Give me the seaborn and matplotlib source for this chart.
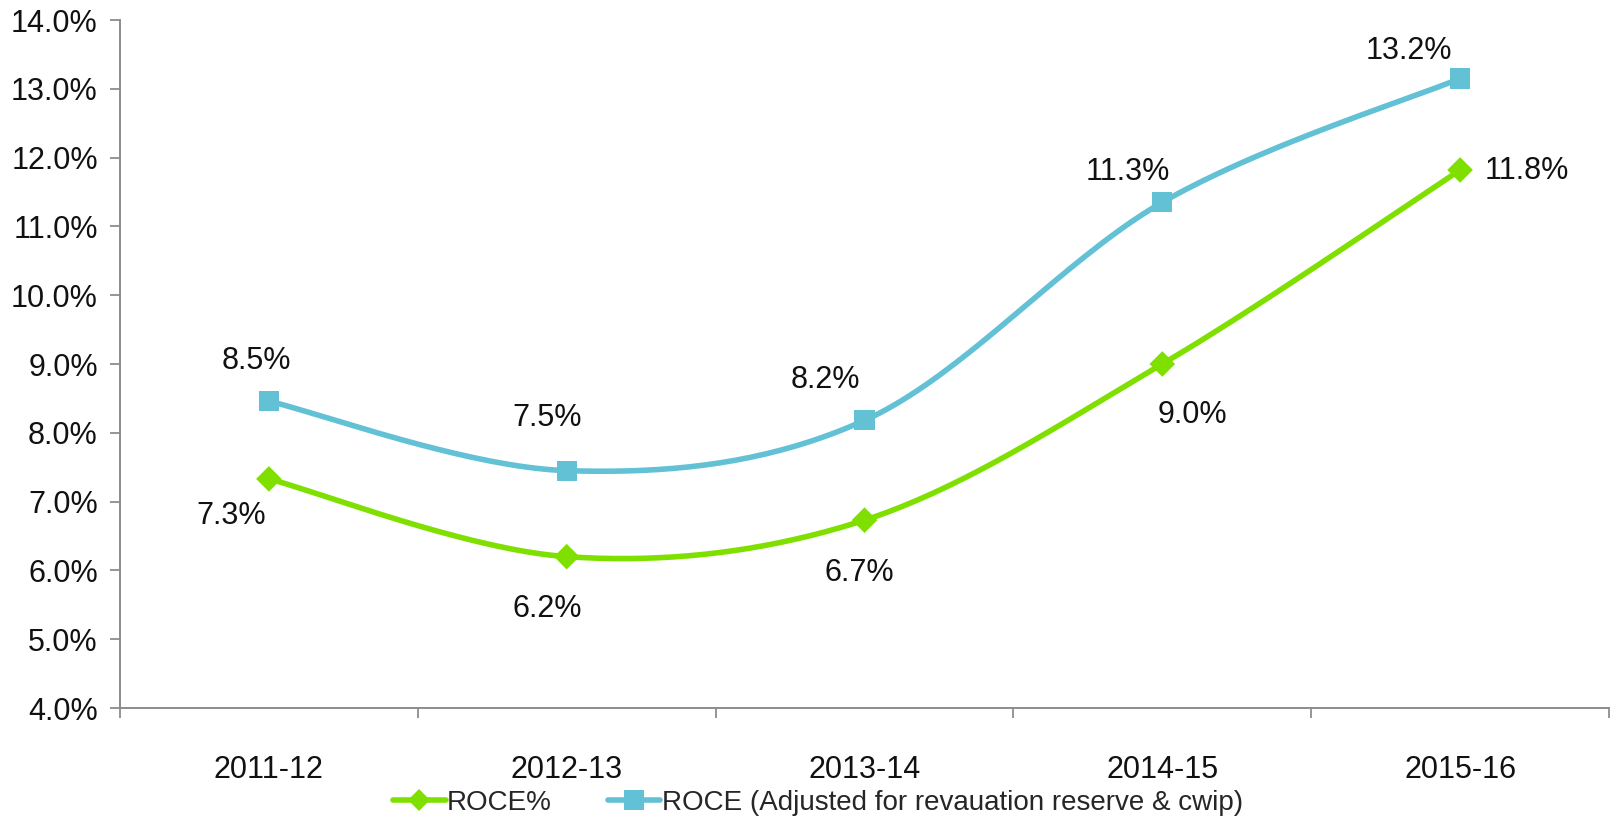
import numpy as np
import pandas as pd
import matplotlib
matplotlib.use("Agg")
import matplotlib.pyplot as plt
from matplotlib.lines import Line2D
import seaborn as sns

# ---- data ----
years = ["2011-12", "2012-13", "2013-14", "2014-15", "2015-16"]
roce = [7.33, 6.20, 6.73, 9.00, 11.82]
roce_adj = [8.46, 7.45, 8.18, 11.35, 13.15]
yticks = [4, 5, 6, 7, 8, 9, 10, 11, 12, 13, 14]
series_names = ["ROCE%", "ROCE (Adjusted for revauation reserve & cwip)"]

GREEN = "#7fe000"
BLUE = "#62c1d5"
AXIS = "#8c8c8c"
FS = 22

sns.set_theme(style="white")
plt.rcParams["font.family"] = ["Liberation Sans", "DejaVu Sans"]

fig = plt.figure(figsize=(16.12, 8.17), dpi=100)
ax = fig.add_axes([120 / 1612, 1 - 708 / 817, (1609 - 120) / 1612, (708 - 20) / 817])


def smooth(xs, ys, n=40):
    """Excel-like smoothed curve (Catmull-Rom Bezier) through the data points."""
    xs = np.asarray(xs, float)
    ys = np.asarray(ys, float)
    P = np.column_stack([xs, ys])
    out = []
    m = len(P)
    for i in range(m - 1):
        p0 = P[i - 1] if i > 0 else P[i]
        p1 = P[i]
        p2 = P[i + 1]
        p3 = P[i + 2] if i + 2 < m else P[i + 1]
        c1 = p1 + (p2 - p0) / 6.0
        c2 = p2 - (p3 - p1) / 6.0
        t = np.linspace(0, 1, n)[:, None]
        seg = ((1 - t) ** 3) * p1 + 3 * ((1 - t) ** 2) * t * c1 + 3 * (1 - t) * t ** 2 * c2 + t ** 3 * p2
        out.append(seg if i == 0 else seg[1:])
    out = np.vstack(out)
    return out[:, 0], out[:, 1]


xpos = np.arange(len(years))

for vals, color, marker, msize in [(roce, GREEN, "D", 170), (roce_adj, BLUE, "s", 210)]:
    sx, sy = smooth(xpos, vals)
    sns.lineplot(x=sx, y=sy, ax=ax, color=color, linewidth=4.0, sort=False, estimator=None)
    sns.scatterplot(x=xpos, y=vals, ax=ax, color=color, marker=marker, s=msize,
                    edgecolor="none", linewidth=0, zorder=5)

# data labels (offsets in points)
adj_offsets = [(-9, 29), (-14, 38), (-28, 29), (-25, 22), (-37, 20)]
roce_offsets = [(-27, -27), (-14, -38), (-4, -38), (22, -37), (18, -1)]
for i, v in enumerate(roce_adj):
    ax.annotate(f"{v:.1f}%", (xpos[i], v), xytext=adj_offsets[i], textcoords="offset points",
                ha="center", va="center", fontsize=FS, color="#111111")
for i, v in enumerate(roce):
    ax.annotate(f"{v:.1f}%", (xpos[i], v), xytext=roce_offsets[i], textcoords="offset points",
                ha="left" if i == len(roce) - 1 else "center", va="center",
                fontsize=FS, color="#111111")

# axes
ax.set_xlim(-0.5, len(years) - 0.5)
ax.set_ylim(4, 14)
ax.set_yticks(yticks)
ax.set_yticklabels([f"{t:.1f}%" for t in yticks])
ax.set_xticks(np.arange(-0.5, len(years), 1.0))
ax.set_xticklabels([])
ax.set_xticks(xpos, minor=True)
ax.set_xticklabels(years, minor=True)
ax.tick_params(axis="x", which="major", length=7, width=1.3, color=AXIS, direction="out", bottom=True)
ax.tick_params(axis="x", which="minor", length=0, pad=34, labelsize=FS, labelcolor="#111111")
ax.tick_params(axis="y", length=7, width=1.3, color=AXIS, direction="out", left=True,
               labelsize=FS, labelcolor="#111111", pad=9)
ax.set_xlabel("")
ax.set_ylabel("")
for s in ["top", "right"]:
    ax.spines[s].set_visible(False)
for s in ["left", "bottom"]:
    ax.spines[s].set_color(AXIS)
    ax.spines[s].set_linewidth(1.4)
ax.grid(False)

handles = [
    Line2D([], [], color=GREEN, marker="D", markersize=11, linewidth=4.0, markeredgewidth=0),
    Line2D([], [], color=BLUE, marker="s", markersize=14, linewidth=4.0, markeredgewidth=0),
]
fig.legend(handles, series_names, loc="center", bbox_to_anchor=(818 / 1612, 14 / 817),
           ncol=2, frameon=False, fontsize=20, handlelength=1.9, handletextpad=0.05,
           columnspacing=2.0, borderpad=0)

fig.savefig("out.png", dpi=100, facecolor="white")
